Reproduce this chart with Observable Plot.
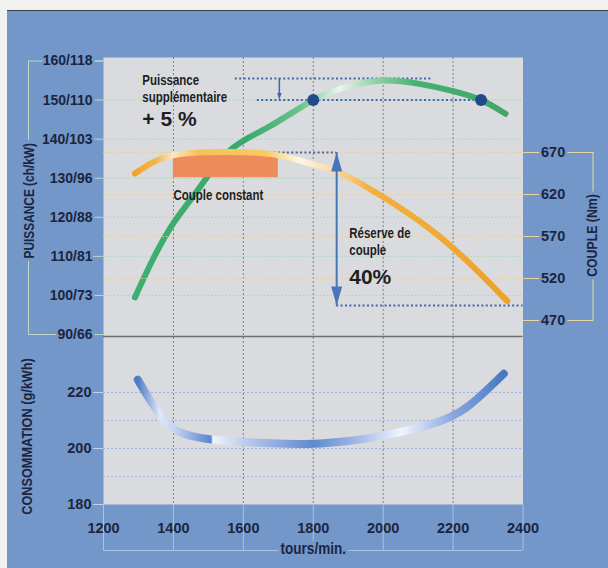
<!DOCTYPE html>
<html><head><meta charset="utf-8">
<script src="https://cdn.jsdelivr.net/npm/d3@7"></script>
<script src="https://cdn.jsdelivr.net/npm/@observablehq/plot@0.6"></script>
<style>
body{margin:0;background:#f1f1ef;}
#wrap{position:relative;width:608px;height:568px;overflow:hidden;background:#f1f1ef;}
#frame{position:absolute;left:7px;top:10px;right:0;bottom:0;background:#7397c9;border-top:1.5px solid #3b404a;}
</style></head><body>
<svg width="0" height="0" style="position:absolute"><defs>
<linearGradient id="gGreen" x1="0" x2="1" y1="0" y2="0">
<stop offset="0" stop-color="#3fae72"/><stop offset="0.3" stop-color="#38aa6a"/>
<stop offset="0.45" stop-color="#6cc48e"/><stop offset="0.55" stop-color="#e9f6ee"/>
<stop offset="0.65" stop-color="#8fd0a5"/><stop offset="0.76" stop-color="#45b070"/>
<stop offset="1" stop-color="#3fa868"/></linearGradient>
<linearGradient id="gOrange" x1="0" x2="1" y1="0" y2="0">
<stop offset="0" stop-color="#efa42c"/><stop offset="0.06" stop-color="#f4b84e"/>
<stop offset="0.1" stop-color="#fbe8c6"/><stop offset="0.17" stop-color="#f6c258"/>
<stop offset="0.35" stop-color="#f8ca62"/><stop offset="0.44" stop-color="#fff5e2"/>
<stop offset="0.53" stop-color="#f9dca8"/><stop offset="0.63" stop-color="#f2b040"/>
<stop offset="1" stop-color="#eea228"/></linearGradient>
<linearGradient id="gBlue" x1="0" x2="1" y1="0" y2="0">
<stop offset="0" stop-color="#4b7bc3"/><stop offset="0.06" stop-color="#dfe7f8"/>
<stop offset="0.1" stop-color="#c6d3ef"/><stop offset="0.2" stop-color="#5a86cc"/>
<stop offset="0.205" stop-color="#eef2fc"/><stop offset="0.3" stop-color="#b8c8ec"/>
<stop offset="0.48" stop-color="#5e89cf"/><stop offset="0.62" stop-color="#aec2ea"/>
<stop offset="0.72" stop-color="#f1f5fd"/><stop offset="0.86" stop-color="#8aa8e0"/>
<stop offset="1" stop-color="#4878c2"/></linearGradient>
</defs></svg>
<div id="wrap"><div id="frame"></div></div>
<script>
// ---- data ----
const xTicks = [1200, 1400, 1600, 1800, 2000, 2200, 2400];
const xGrid = [1400, 1600, 1800, 2000, 2200];
const powerDomain = [90, 160];
const powerTicks = [90, 100, 110, 120, 130, 140, 150, 160];
const powerTickLabels = ["90/66", "100/73", "110/81", "120/88", "130/96", "140/103", "150/110", "160/118"];
const powerGrid = [100, 110, 120, 130, 140, 150];
const coupleDomain = [470, 670];
const coupleTicks = [470, 520, 570, 620, 670];
const coupleGrid = [520, 570, 620, 670];
const consDomain = [180, 240];
const consTicks = [180, 200, 220];
const consGrid = [190, 200, 210, 220];

const powerRpm = [1290, 1340, 1400, 1470, 1560, 1670, 1800, 1900, 2000, 2100, 2200, 2280, 2350];
const power    = [99.5, 109, 118.5, 127, 137, 143, 150, 153.5, 155, 154.2, 152.3, 150, 146.5];
const coupleRpm = [1290, 1340, 1390, 1450, 1550, 1650, 1720, 1800, 1880, 2000, 2140, 2260, 2355];
const couple    = [645, 658, 666, 669.5, 670.5, 669.5, 665, 656, 645, 617, 577, 533, 493];
const consRpm = [1298, 1330, 1365, 1400, 1450, 1510, 1600, 1700, 1800, 1900, 2000, 2140, 2240, 2345];
const cons    = [224.6, 218, 211.5, 207, 204.5, 203.2, 202.3, 201.8, 201.7, 202.7, 204.6, 208.8, 214.8, 226.7];

const powerDotRpm = [1800, 2280];
const powerDotValue = [150, 150];
const gainLineValue = [155.5, 150];
const gainLineFrom = [1577, 1640];
const gainLineTo = [2140, 2300];
const gainArrowRpm = 1703;
const constantRpm = [1400, 1700];
const constantCouple = [640, 667];
const reserveRpm = 1867;
const reserveCouple = [670, 488];
const reserveLineFrom = [1600, 1867];
const reserveLineTo = [1867, 2400];

const powerNotes = ["Puissance", "supplémentaire"];
const powerNotesRpm = [1311, 1311];
const powerNotesValue = [155, 150.6];
const gainText = "+ 5 %"; const gainTextValue = 145.2;
const coupleNotes = ["Couple constant", "Réserve de", "couple"];
const coupleNotesRpm = [1400, 1903, 1903];
const coupleNotesValue = [618.8, 573.6, 553.3];
const reserveText = "40%"; const reserveTextValue = 521;

// ---- layout ----
const W = 608, H = 568, ML = 103, MR = 85.5;
const ink = "#1c2540";
const bg = "#7397c9";
const narrow = "'Liberation Sans Narrow','Arial Narrow','Liberation Sans',Arial,sans-serif";
const sans = "'Liberation Sans',Arial,Helvetica,sans-serif";
const layerStyle = {position: "absolute", left: "0px", top: "0px", background: "transparent", overflow: "visible", fontFamily: sans};
const xScale = {domain: [1200, 2400], axis: null};
const pts = (xs, ys) => xs.map((x, i) => ({x, y: ys[i]}));
const wrap = document.getElementById("wrap");
const titleOpts = {textAnchor: "middle", lineAnchor: "middle", rotate: -90, fill: ink, fontWeight: "bold", fontFamily: narrow, stroke: bg, strokeWidth: 8, paintOrder: "stroke"};
const halo = {textStroke: bg, textStrokeWidth: 5};

// base: panel, vertical grid, x axis
wrap.append(Plot.plot({
  width: W, height: H, marginLeft: ML, marginRight: MR, marginTop: 57, marginBottom: 64,
  x: {domain: [1200, 2400]}, y: {domain: [0, 1], axis: null}, style: layerStyle,
  marks: [
    Plot.frame({fill: "#d9dbde", stroke: null}),
    Plot.ruleX(xGrid, {stroke: "#7c7e83", strokeDasharray: "2,2"}),
    Plot.axisX(xTicks, {tickSize: 46, stroke: "#a9c2e6", fill: "none", label: null}),
    Plot.ruleY([0], {dy: 46, stroke: "#a9c2e6"}),
    Plot.axisX(xTicks, {tickSize: 0, tickPadding: 18, fill: ink, fontSize: 14.5, fontWeight: "bold", tickFormat: d => String(d), label: null}),
    Plot.text(["tours/min."], {frameAnchor: "bottom", dy: 44, textAnchor: "middle", lineAnchor: "middle", fill: ink, fontSize: 16.5, fontWeight: "bold", fontFamily: narrow, stroke: bg, strokeWidth: 8, paintOrder: "stroke"})
  ]
}));

// power (top, left axis)
wrap.append(Plot.plot({
  width: W, height: H, marginLeft: ML, marginRight: MR, marginTop: 60.5, marginBottom: 234,
  x: xScale, y: {domain: powerDomain, axis: null}, style: layerStyle,
  marks: [
    Plot.ruleY(powerGrid, {stroke: "#a3d6b4", strokeDasharray: "1.5,2"}),
    Plot.axisY(powerDomain, {anchor: "left", tickSize: 75, stroke: "#b9d8c6", fill: "none", label: null}),
    Plot.ruleX([xScale.domain[0]], {y1: powerDomain[0], y2: powerDomain[1], dx: -75, stroke: "#b9d8c6"}),
    Plot.axisY(powerTicks, {anchor: "left", tickSize: 10, tickPadding: 1, stroke: "#bcd9c6", fill: ink, ...halo, fontSize: 14, fontWeight: "bold", tickFormat: d => powerTickLabels[powerTicks.indexOf(d)], label: null}),
    Plot.text(["PUISSANCE (ch/kW)"], {...titleOpts, frameAnchor: "left", dx: -74, dy: 3, fontSize: 14.5}),
    Plot.ruleY(gainLineValue.map((y, i) => ({y, x1: gainLineFrom[i], x2: gainLineTo[i]})), {y: "y", x1: "x1", x2: "x2", stroke: "#4366a8", strokeWidth: 2, strokeDasharray: "2,2.4"}),
    Plot.ruleX([gainArrowRpm], {y1: gainLineValue[0], y2: gainLineValue[1] + 1, stroke: "#4366a8", strokeWidth: 1.5}),
    Plot.vector([{x: gainArrowRpm, y: gainLineValue[1]}], {x: "x", y: "y", length: 7, rotate: 180, shape: "spike", r: 2.2, anchor: "end", fill: "#4366a8", stroke: "none"}),
    Plot.line(pts(powerRpm, power), {x: "x", y: "y", curve: "natural", stroke: "url(#gGreen)", strokeWidth: 6, strokeLinecap: "round"}),
    Plot.dot(pts(powerDotRpm, powerDotValue), {x: "x", y: "y", r: 6, fill: "#1f4b8c", stroke: "none"}),
    Plot.text(pts(powerNotesRpm, powerNotesValue).map((d, i) => ({...d, t: powerNotes[i]})), {x: "x", y: "y", text: "t", textAnchor: "start", fill: "#1e1e24", fontSize: 14, fontWeight: "bold", fontFamily: narrow}),
    Plot.text([{x: powerNotesRpm[0], y: gainTextValue, t: gainText}], {x: "x", y: "y", text: "t", textAnchor: "start", fill: "#1e1e24", fontSize: 21, fontWeight: "bold", fontFamily: sans})
  ]
}));

// couple (top, right axis)
wrap.append(Plot.plot({
  width: W, height: H, marginLeft: ML, marginRight: MR, marginTop: 152, marginBottom: 248,
  x: xScale, y: {domain: coupleDomain, axis: null}, style: layerStyle,
  marks: [
    Plot.ruleY(coupleGrid, {stroke: "#f0cb8c", strokeDasharray: "1.5,2"}),
    Plot.axisY(coupleDomain, {anchor: "right", tickSize: 70, stroke: "#e6d6a6", fill: "none", label: null}),
    Plot.ruleX([xScale.domain[1]], {y1: coupleDomain[0], y2: coupleDomain[1], dx: 70, stroke: "#e6d6a6"}),
    Plot.axisY(coupleTicks, {anchor: "right", tickSize: 16, tickPadding: 2, stroke: "#f0d49a", fill: ink, ...halo, fontSize: 14.5, fontWeight: "bold", tickFormat: d => String(d), label: null}),
    Plot.text(["COUPLE (Nm)"], {...titleOpts, frameAnchor: "right", dx: 69, dy: -1, fontSize: 15}),
    Plot.rect([{x1: constantRpm[0], x2: constantRpm[1], y1: constantCouple[0], y2: constantCouple[1]}], {x1: "x1", x2: "x2", y1: "y1", y2: "y2", fill: "#ee8b5a"}),
    Plot.ruleY(reserveCouple.map((y, i) => ({y, x1: reserveLineFrom[i], x2: reserveLineTo[i]})), {y: "y", x1: "x1", x2: "x2", stroke: "#4366a8", strokeWidth: 2, strokeDasharray: "2,2.4"}),
    Plot.line(pts(coupleRpm, couple), {x: "x", y: "y", curve: "natural", stroke: "url(#gOrange)", strokeWidth: 6, strokeLinecap: "round"}),
    Plot.ruleX([reserveRpm], {y1: reserveCouple[0], y2: reserveCouple[1], stroke: "#4677bb", strokeWidth: 2}),
    Plot.vector([{x: reserveRpm, y: reserveCouple[0], rot: 0}, {x: reserveRpm, y: reserveCouple[1], rot: 180}], {x: "x", y: "y", rotate: "rot", length: 19, shape: "spike", r: 5.5, anchor: "end", fill: "#4677bb", stroke: "none"}),
    Plot.text(pts(coupleNotesRpm, coupleNotesValue).map((d, i) => ({...d, t: coupleNotes[i]})), {x: "x", y: "y", text: "t", textAnchor: "start", fill: "#1e1e24", fontSize: 14, fontWeight: "bold", fontFamily: narrow}),
    Plot.text([{x: coupleNotesRpm[1], y: reserveTextValue, t: reserveText}], {x: "x", y: "y", text: "t", textAnchor: "start", fill: "#1e1e24", fontSize: 21, fontWeight: "bold", fontFamily: sans})
  ]
}));

// consumption (bottom)
wrap.append(Plot.plot({
  width: W, height: H, marginLeft: ML, marginRight: MR, marginTop: 336, marginBottom: 64,
  x: xScale, y: {domain: consDomain, axis: null}, style: layerStyle,
  marks: [
    Plot.ruleY(consGrid, {stroke: "#9eb0de", strokeDasharray: "2,2"}),
    Plot.ruleY([consDomain[1]], {stroke: "#6c6e73", strokeWidth: 1.3}),
    Plot.axisY(consTicks, {anchor: "left", tickSize: 10, tickPadding: 2, stroke: "#c4d4ee", fill: ink, fontSize: 14.5, fontWeight: "bold", tickFormat: d => String(d), label: null}),
    Plot.text(["CONSOMMATION (g/kWh)"], {...titleOpts, frameAnchor: "left", dx: -76, dy: 16, fontSize: 15.5}),
    Plot.line(pts(consRpm, cons), {x: "x", y: "y", curve: "natural", stroke: "url(#gBlue)", strokeWidth: 8, strokeLinecap: "round"})
  ]
}));

// condensed look: squeeze texts meant for a narrow face when it is not installed
document.querySelectorAll('g[font-family*="Narrow"] text').forEach(t => {
  const w = t.getComputedTextLength();
  if (w > 0) { t.setAttribute("textLength", (w * 0.82).toFixed(1)); t.setAttribute("lengthAdjust", "spacingAndGlyphs"); }
});
</script>
</body></html>
